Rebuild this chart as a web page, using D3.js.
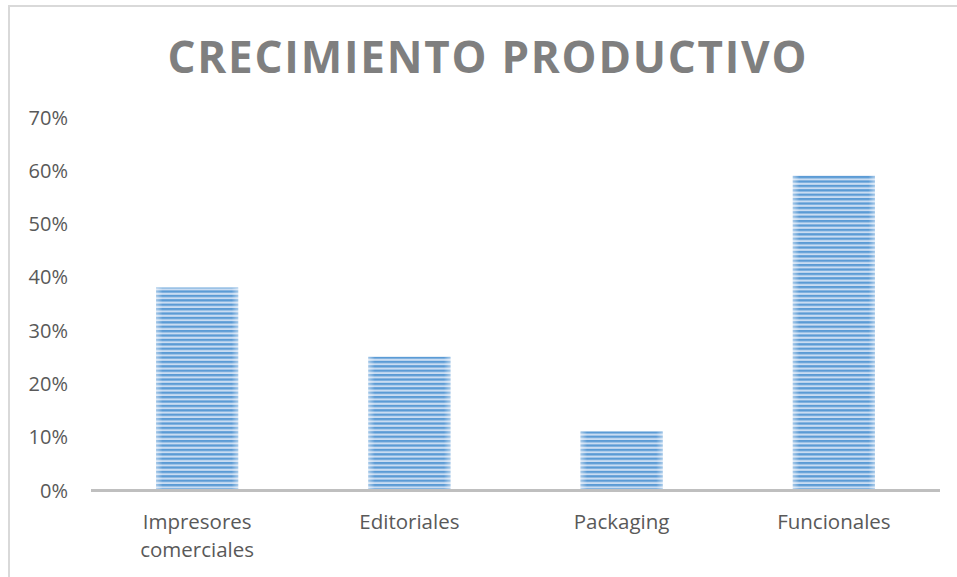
<!DOCTYPE html>
<html>
<head>
<meta charset="utf-8">
<script src="https://cdn.jsdelivr.net/npm/d3@7"></script>
<style>
  html, body { margin: 0; padding: 0; background: #fff; }
  svg { display: block; }
</style>
</head>
<body>
<svg id="chart" width="957" height="577"></svg>
<script>
// Chart data
const categories = ["Impresores comerciales", "Editoriales", "Packaging", "Funcionales"];
const values = [0.38, 0.25, 0.11, 0.59];
const yTicks = [0, 0.1, 0.2, 0.3, 0.4, 0.5, 0.6, 0.7];
const title = "CRECIMIENTO PRODUCTIVO";

const svg = d3.select("#chart");
const W = 957, H = 577;
const plot = { left: 91, right: 940, top: 117, bottom: 490 };

// Outer frame
svg.append("path")
  .attr("d", `M9,${H} L9,6 L${W},6`)
  .attr("fill", "none")
  .attr("stroke", "#d9d9d9")
  .attr("stroke-width", 2);

// Title
svg.append("text")
  .attr("x", 487)
  .attr("y", 73)
  .attr("text-anchor", "middle")
  .attr("font-family", "'Open Sans', sans-serif")
  .attr("font-weight", 700)
  .attr("font-size", 44)
  .attr("fill", "#7f7f7f")
  .attr("textLength", 639)
  .attr("lengthAdjust", "spacing")
  .text(title);

// Scales
const x = d3.scaleBand()
  .domain(categories)
  .range([plot.left, plot.right])
  .paddingInner(0.613)
  .paddingOuter(0.3065);

const y = d3.scaleLinear()
  .domain([0, 0.7])
  .range([plot.bottom, plot.top]);

// Striped fill for the bars
const defs = svg.append("defs");
const pat = defs.append("pattern")
  .attr("id", "stripes")
  .attr("patternUnits", "userSpaceOnUse")
  .attr("width", 10)
  .attr("height", 4.4);
pat.append("rect").attr("width", 10).attr("height", 4.4).attr("fill", "#c9dcf2");
pat.append("rect").attr("width", 10).attr("height", 2.3).attr("fill", "#5b9bd5");

const edge = defs.append("linearGradient")
  .attr("id", "edgeFade")
  .attr("x1", "0").attr("x2", "1").attr("y1", "0").attr("y2", "0");
[[0, 0.45], [0.08, 0.0], [0.92, 0.0], [1, 0.45]].forEach(([o, a]) => {
  edge.append("stop").attr("offset", o).attr("stop-color", "#ffffff").attr("stop-opacity", a);
});

// Y axis tick labels (no axis line)
const yAxis = d3.axisLeft(y)
  .tickValues(yTicks)
  .tickFormat(d3.format(".0%"))
  .tickSize(0)
  .tickPadding(0);
const gy = svg.append("g")
  .attr("transform", "translate(68,0)")
  .call(yAxis);
gy.select(".domain").remove();
gy.selectAll("text")
  .attr("font-family", "'Open Sans', sans-serif")
  .attr("font-size", 20)
  .attr("fill", "#595959")
  .attr("dy", "0.35em");

// Bars
const bars = svg.append("g");
bars.selectAll("rect.bar")
  .data(values)
  .join("rect")
  .attr("class", "bar")
  .attr("x", (d, i) => x(categories[i]))
  .attr("y", d => y(d))
  .attr("width", x.bandwidth())
  .attr("height", d => y(0) - y(d))
  .attr("fill", "url(#stripes)");
bars.selectAll("rect.fade")
  .data(values)
  .join("rect")
  .attr("class", "fade")
  .attr("x", (d, i) => x(categories[i]))
  .attr("y", d => y(d))
  .attr("width", x.bandwidth())
  .attr("height", d => y(0) - y(d))
  .attr("fill", "url(#edgeFade)");

// X axis baseline
svg.append("line")
  .attr("x1", plot.left).attr("x2", plot.right)
  .attr("y1", y(0) + 0.5).attr("y2", y(0) + 0.5)
  .attr("stroke", "#bfbfbf")
  .attr("stroke-width", 3);

// Category labels (wrapped onto two lines where needed)
const xAxis = d3.axisBottom(x).tickSize(0).tickPadding(0);
const gx = svg.append("g")
  .attr("transform", `translate(0,${y(0)})`)
  .call(xAxis);
gx.select(".domain").remove();
gx.selectAll("text").each(function (d) {
  const t = d3.select(this);
  t.text(null)
    .attr("y", 39)
    .attr("dy", 0)
    .attr("font-family", "'Open Sans', sans-serif")
    .attr("font-size", 20.5)
    .attr("fill", "#595959");
  const words = d.split(" ");
  words.forEach((w, i) => {
    t.append("tspan")
      .attr("x", 0)
      .attr("dy", i === 0 ? 0 : 28)
      .text(w);
  });
});
</script>
</body>
</html>
